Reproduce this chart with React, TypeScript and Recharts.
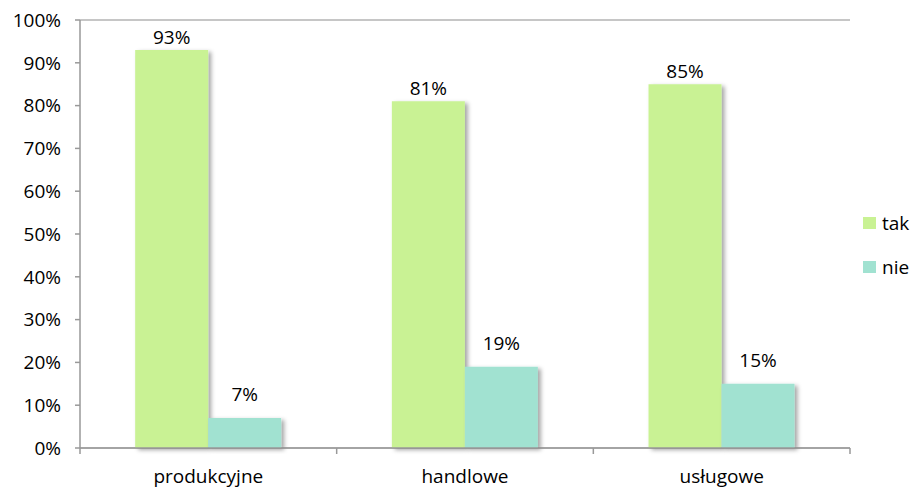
import React from 'react';
import {Bar, BarChart, CartesianGrid, LabelList, Legend, XAxis, YAxis} from 'recharts';

const categories = ['produkcyjne', 'handlowe', 'usługowe'];
const tak = [93, 81, 85];
const nie = [7, 19, 15];
const yTicks = [0, 10, 20, 30, 40, 50, 60, 70, 80, 90, 100];
const seriesOrder = ['tak', 'nie'];

const chartData = categories.map((name, i) => ({name, tak: tak[i], nie: nie[i]}));

const W = 912;
const H = 489;
const margin = {top: 20, right: 62, left: 0, bottom: 0};
const yAxisWidth = 80;
const xAxisHeight = 41;
const plotWidth = W - margin.left - margin.right - yAxisWidth;
const plotBottom = H - margin.bottom - xAxisHeight;
const band = plotWidth / categories.length;
const font = '"Open Sans", sans-serif';
const fs = 19;

const CategoryTick = (props: any) => {
    const {x, payload, index} = props;
    return (
        <g>
            <line x1={x - band / 2} x2={x - band / 2} y1={plotBottom} y2={plotBottom + 6} stroke="#999" strokeWidth={1.5} />
            {index === categories.length - 1 && (
                <line x1={x + band / 2} x2={x + band / 2} y1={plotBottom} y2={plotBottom + 6} stroke="#999" strokeWidth={1.5} />
            )}
            <text x={x} y={plotBottom + 35} textAnchor="middle" fill="#000" fontSize={fs} fontFamily={font}>
                {payload.value}
            </text>
        </g>
    );
};

const LegendBox = (props: any) => {
    const items = [...(props.payload || [])].sort(
        (a: any, b: any) => seriesOrder.indexOf(a.value) - seriesOrder.indexOf(b.value)
    );
    return (
        <div style={{fontFamily: font, fontSize: fs}}>
            {items.map((it: any) => (
                <div key={it.value} style={{display: 'flex', alignItems: 'center', height: 44}}>
                    <span style={{width: 13, height: 12, background: it.color, display: 'inline-block', marginRight: 6}} />
                    <span>{it.value}</span>
                </div>
            ))}
        </div>
    );
};

export default function App() {
    return (
        <div style={{position: 'absolute', left: 0, top: 0, background: '#fff'}}>
            <BarChart width={W} height={H} data={chartData} margin={margin} barCategoryGap="21.5%" barGap={0}>
                <defs>
                    <filter id="barShadow" x="-10%" y="-10%" width="130%" height="130%">
                        <feDropShadow dx={3} dy={2} stdDeviation={2} floodColor="#000" floodOpacity={0.35} />
                    </filter>
                </defs>
                <CartesianGrid vertical={false} stroke="#b3b3b3" strokeWidth={1.5} />
                <XAxis dataKey="name" height={xAxisHeight} axisLine={{stroke: '#999', strokeWidth: 1.5}} tickLine={false}
                       tick={<CategoryTick />} interval={0} />
                <YAxis yAxisId="l" width={yAxisWidth} domain={[0, 100]} ticks={yTicks} interval={0}
                       tickFormatter={(v: number) => `${v}%`}
                       axisLine={{stroke: '#999', strokeWidth: 1.5}} tickLine={{stroke: '#999', strokeWidth: 1.5}}
                       tickSize={5} tickMargin={14}
                       tick={{fill: '#000', fontSize: fs, fontFamily: font}} />
                <YAxis yAxisId="r" orientation="right" width={0} domain={[0, 100]} tick={false} tickLine={false}
                       axisLine={{stroke: '#b3b3b3', strokeWidth: 1.5}} />
                <Legend layout="vertical" align="center" verticalAlign="middle" content={<LegendBox />}
                        wrapperStyle={{left: 863, top: 201, width: 49}} />
                <Bar yAxisId="l" dataKey="tak" name="tak" fill="#c9f294" filter="url(#barShadow)" isAnimationActive={false}>
                    <LabelList dataKey="tak" position="top" offset={6} formatter={(v: any) => `${v}%`}
                               style={{fill: '#000', fontSize: fs, fontFamily: font}} />
                </Bar>
                <Bar yAxisId="l" dataKey="nie" name="nie" fill="#a1e2d1" filter="url(#barShadow)" isAnimationActive={false}>
                    <LabelList dataKey="nie" position="top" offset={17} formatter={(v: any) => `${v}%`}
                               style={{fill: '#000', fontSize: fs, fontFamily: font}} />
                </Bar>
            </BarChart>
        </div>
    );
}
